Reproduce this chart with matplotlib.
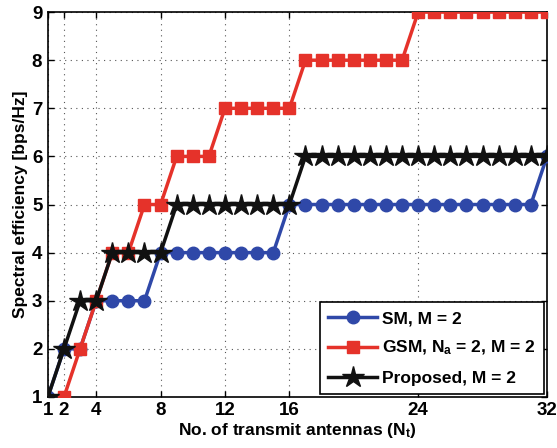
import matplotlib
matplotlib.use('Agg')
import matplotlib.pyplot as plt

plt.rcParams['font.family'] = ['Liberation Sans', 'DejaVu Sans']
plt.rcParams['font.weight'] = 'bold'
plt.rcParams['mathtext.fontset'] = 'custom'
plt.rcParams['mathtext.rm'] = 'Liberation Sans:bold'
plt.rcParams['mathtext.it'] = 'Liberation Sans:bold'
plt.rcParams['mathtext.bf'] = 'Liberation Sans:bold'

# SM, M = 2
nt_sm = list(range(1, 33))
se_sm = [1, 2, 2, 3, 3, 3, 3, 4, 4, 4, 4, 4, 4, 4, 4, 5,
         5, 5, 5, 5, 5, 5, 5, 5, 5, 5, 5, 5, 5, 5, 5, 6]
# GSM, Na = 2, M = 2
nt_gsm = list(range(2, 33))
se_gsm = [1, 2, 3, 4, 4, 5, 5, 6, 6, 6, 7, 7, 7, 7, 7,
          8, 8, 8, 8, 8, 8, 8, 9, 9, 9, 9, 9, 9, 9, 9, 9]
# Proposed, M = 2
nt_prop = list(range(1, 33))
se_prop = [1, 2, 3, 3, 4, 4, 4, 4, 5, 5, 5, 5, 5, 5, 5, 5,
           6, 6, 6, 6, 6, 6, 6, 6, 6, 6, 6, 6, 6, 6, 6, 6]

xticks = [1, 2, 4, 8, 12, 16, 24, 32]
yticks = [1, 2, 3, 4, 5, 6, 7, 8, 9]

fig = plt.figure(figsize=(5.57, 4.48), dpi=100)
ax = fig.add_axes([0.086, 0.114, 0.896, 0.859])

ax.plot(nt_sm, se_sm, '-o', color='#2f48a8', lw=2.5, ms=9,
        label='SM, M = 2', zorder=3)
ax.plot(nt_gsm, se_gsm, '-s', color='#e5322a', lw=2.5, ms=8.5,
        label='GSM, N$_a$ = 2, M = 2', zorder=4)
ax.plot(nt_prop, se_prop, '-*', color='#111111', lw=2.5, ms=16,
        label='Proposed, M = 2', zorder=5)

ax.set_xlim(1, 32)
ax.set_ylim(1, 9)
ax.set_xticks(xticks)
ax.set_yticks(yticks)
ax.tick_params(direction='in', labelsize=13.5, top=True, right=True,
               length=4, width=1, pad=4)
for lab in ax.get_xticklabels() + ax.get_yticklabels():
    lab.set_fontweight('bold')
ax.grid(True, linestyle=(0, (1, 4)), color='#555555', lw=0.8)
for s in ax.spines.values():
    s.set_linewidth(1.2)

ax.set_xlabel('No. of transmit antennas (N$_t$)', fontsize=12.5,
              fontweight='bold', labelpad=1)
ax.set_ylabel('Spectral efficiency [bps/Hz]', fontsize=12.5,
              fontweight='bold', labelpad=3)

leg = ax.legend(loc='lower right', fontsize=12.5, fancybox=False,
                framealpha=1, edgecolor='black', handlelength=2.8,
                borderpad=0.5, labelspacing=0.75, handletextpad=0.3,
                borderaxespad=0.15)
leg.get_frame().set_linewidth(1.2)

fig.savefig('out.png', dpi=100)
